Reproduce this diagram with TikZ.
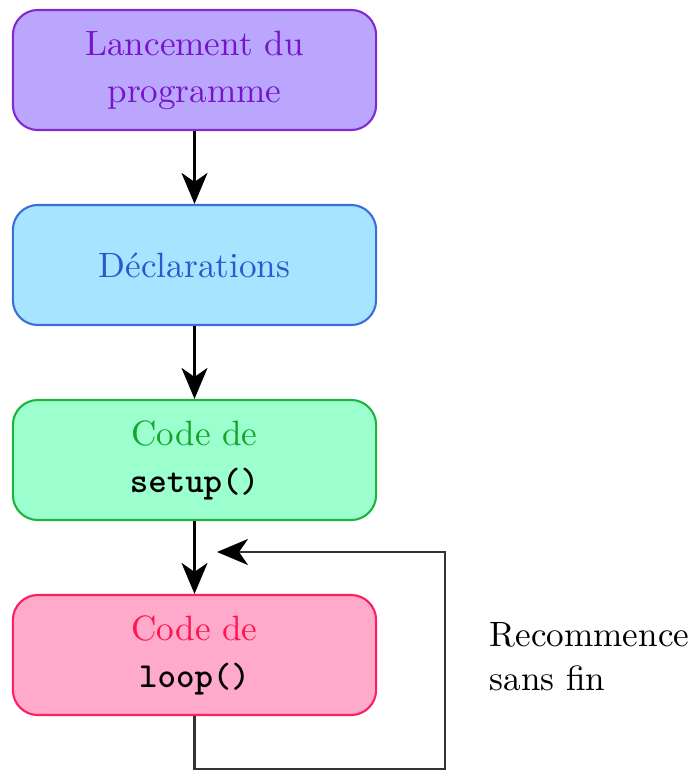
\documentclass[tikz,border=0pt]{standalone}
\usetikzlibrary{arrows.meta}

\definecolor{violetFill}{RGB}{187,166,254}
\definecolor{violetLine}{RGB}{134,40,210}
\definecolor{violetText}{RGB}{118,20,200}
\definecolor{blueFill}{RGB}{166,228,255}
\definecolor{blueLine}{RGB}{60,110,215}
\definecolor{blueText}{RGB}{40,90,205}
\definecolor{greenFill}{RGB}{156,255,206}
\definecolor{greenLine}{RGB}{30,180,60}
\definecolor{greenText}{RGB}{20,165,45}
\definecolor{pinkFill}{RGB}{255,170,202}
\definecolor{pinkLine}{RGB}{255,30,95}
\definecolor{pinkText}{RGB}{255,20,80}

\tikzset{
  stagebox/.style={draw, line width=0.6pt, rounded corners=0.25cm,
    minimum width=3.63cm, minimum height=1.2cm, align=center, inner sep=0pt},
  flow/.style={-{Stealth[length=3.1mm,width=2.6mm,inset=0.9mm]}, line width=0.6pt, black},
  loopback/.style={-{Stealth[length=3.1mm,width=2.6mm,inset=0.9mm,color=black]}, line width=0.6pt, black!80},
}

\begin{document}
\begin{tikzpicture}[x=0.01cm,y=-0.01cm]
  \useasboundingbox (0,0) rectangle (691,770);

  \node[stagebox, fill=violetFill, draw=violetLine, text=violetText] (start) at (194.5,70)
    {Lancement du\\[1.4pt]programme};
  \node[stagebox, fill=blueFill, draw=blueLine, text=blueText] (decl) at (194.5,265)
    {D\'eclarations};
  \node[stagebox, fill=greenFill, draw=greenLine, text=greenText] (setup) at (194.5,460)
    {Code de\\[1.4pt]\textcolor{black}{\texttt{\bfseries setup()}}};
  \node[stagebox, fill=pinkFill, draw=pinkLine, text=pinkText] (loop) at (194.5,655)
    {Code de\\[1.4pt]\textcolor{black}{\texttt{\bfseries loop()}}};

  \draw[flow] (start) -- (decl);
  \draw[flow] (decl) -- (setup);
  \draw[flow] (setup) -- (loop);

  \coordinate (back) at (217,552);
  \draw[loopback] (loop.south) -- ++(0,53) -| (445,552) -- (back);

  \node[align=left, anchor=west, inner sep=0pt] (note) at (489,657)
    {Recommence\\[0.5pt]sans fin};
\end{tikzpicture}
\end{document}
